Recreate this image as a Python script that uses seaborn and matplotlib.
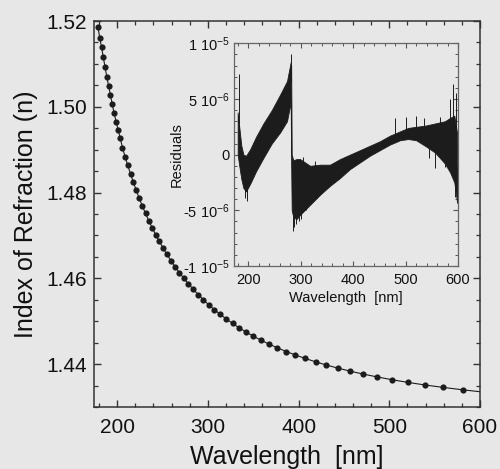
import numpy as np
import pandas as pd
import matplotlib
matplotlib.use("Agg")
import matplotlib.pyplot as plt
from matplotlib.ticker import MultipleLocator, FixedLocator
import seaborn as sns

# Refractive index measurements (wavelength in nm)
wavelength_nm = [581.0, 559.3, 539.2, 520.5, 503.0, 486.7, 471.4, 457.0, 443.5, 430.7,
                 418.7, 407.3, 396.6, 386.3, 376.6, 367.4, 358.6, 350.2, 342.2, 334.6,
                 327.3, 320.3, 313.6, 307.2, 301.0, 295.1, 289.4, 283.9, 278.6, 273.5,
                 268.6, 263.9, 259.3, 254.9, 250.7, 246.5, 242.6, 238.7, 234.9, 231.3,
                 227.8, 224.4, 221.1, 217.9, 214.8, 211.7, 208.8, 205.9,
                 203.3, 201.1, 198.9, 196.7, 194.6, 192.6, 190.6, 188.6, 186.7, 184.8,
                 182.8, 180.8, 178.8]
index_n = [1.43401, 1.43457, 1.43514, 1.43574, 1.43636, 1.43701, 1.43767, 1.43835, 1.43906, 1.43978,
           1.44054, 1.44132, 1.44212, 1.44294, 1.44380, 1.44467, 1.44558, 1.44651, 1.44747, 1.44846,
           1.44948, 1.45053, 1.45160, 1.45271, 1.45383, 1.45500, 1.45620, 1.45744, 1.45871, 1.46002,
           1.46134, 1.46270, 1.46413, 1.46556, 1.46707, 1.46860, 1.47015, 1.47177, 1.47343, 1.47512,
           1.47687, 1.47866, 1.48051, 1.48240, 1.48433, 1.48632, 1.48834, 1.49047,
           1.49280, 1.49459, 1.49653, 1.49848, 1.50065, 1.50275, 1.50485, 1.50702, 1.50921, 1.51154,
           1.51387, 1.51611, 1.51867]

# Dispersion fit curve (extends to the red end of the range)
fit_wavelength_nm = [600.0] + wavelength_nm
fit_index_n = [1.43356] + index_n

# Fit residuals: envelope of the scatter band (units of 1e-6)
res_wl = [180, 183, 187, 191, 196, 204, 215, 229, 245, 261, 274, 279, 281, 282, 283,
          286, 292, 299, 318, 337, 356, 375, 394, 413, 432, 451, 470, 490, 505, 520,
          537, 556, 575, 585, 593, 598]
res_upper = [3.8, 2.5, 0.8, 0.0, -0.1, 0.5, 1.6, 2.8, 4.0, 5.4, 6.6, 7.8, 8.3, 8.0, 0.0,
             -0.5, -0.4, -0.4, -1.0, -0.9, -0.9, -0.4, 0.0, 0.4, 0.8, 1.2, 1.7, 2.1, 2.4, 2.5,
             2.6, 2.8, 3.0, 3.3, 3.5, 2.0]
res_lower = [0.0, -1.0, -2.2, -3.0, -3.3, -2.6, -1.5, -0.3, 1.0, 2.0, 3.0, 4.2, 4.8, -1.0, -5.0,
             -5.6, -5.8, -5.4, -4.5, -3.6, -2.8, -2.1, -1.3, -0.7, -0.1, 0.4, 0.9, 1.3, 1.4, 1.3,
             0.8, 0.2, -0.8, -1.6, -2.5, -4.2]
# Isolated outliers beyond the band (units of 1e-6)
spike_wl = [182, 194, 197, 281, 285, 288, 292, 296, 300, 305, 310, 327, 332,
            480, 500, 520, 535, 545, 556, 565, 575, 585, 590, 594, 597, 599]
spike_val = [7.2, -3.9, -4.2, 9.0, -6.9, -6.5, -6.2, -6.0, -5.8, -0.2, -5.0, -0.6, -3.9,
             3.3, 3.4, 3.5, 3.3, -0.3, -1.2, 3.4, -1.1, 5.0, 6.3, -3.8, 5.5, -4.3]

main_yticks = [1.44, 1.46, 1.48, 1.50, 1.52]
xticks = [200, 300, 400, 500, 600]
inset_yticks = [-1e-5, -5e-6, 0, 5e-6, 1e-5]
inset_yticklabels = [r"-1 10$^{-5}$", r"-5 10$^{-6}$", "0", r"5 10$^{-6}$", r"1 10$^{-5}$"]

sns.set_theme(style="ticks")
bg = "#e7e7e7"
ink = "#1c1c1c"
plt.rcParams["font.family"] = ["Liberation Sans", "DejaVu Sans"]
plt.rcParams["mathtext.fontset"] = "custom"
plt.rcParams["mathtext.rm"] = "Liberation Sans"
plt.rcParams["mathtext.it"] = "Liberation Sans"

fig = plt.figure(figsize=(5.0, 4.69), dpi=100, facecolor=bg)
ax = fig.add_axes([0.188, 0.1322, 0.772, 0.8230])
ax.set_facecolor(bg)

df = pd.DataFrame({"wl": wavelength_nm, "n": index_n})
fit_df = pd.DataFrame({"wl": fit_wavelength_nm, "n": fit_index_n})
sns.lineplot(data=fit_df, x="wl", y="n", ax=ax, color=ink, linewidth=0.8, sort=True)
sns.scatterplot(data=df, x="wl", y="n", ax=ax, color=ink, s=20, linewidth=0, zorder=3)

ax.set_xlim(174.5, 600)
ax.set_ylim(1.43, 1.52)
ax.xaxis.set_major_locator(FixedLocator(xticks))
ax.xaxis.set_minor_locator(MultipleLocator(20))
ax.yaxis.set_major_locator(FixedLocator(main_yticks))
ax.yaxis.set_minor_locator(MultipleLocator(0.005))
ax.set_yticklabels([f"{v:.2f}" for v in main_yticks])
ax.tick_params(which="both", direction="in", top=True, right=True, colors="#333333",
               labelcolor="#111111", labelsize=15)
ax.tick_params(which="major", length=5, width=1.0)
ax.tick_params(axis="x", which="major", pad=8)
ax.tick_params(axis="y", which="major", pad=5)
ax.tick_params(which="minor", length=2.8, width=0.9)
for s in ax.spines.values():
    s.set_color("#333333")
    s.set_linewidth(1.1)
    s.set_visible(True)
ax.set_xlabel("Wavelength  [nm]", fontsize=18, color="#111111", labelpad=6)
ax.set_ylabel("Index of Refraction (n)", fontsize=18, color="#111111", labelpad=6)

# Residuals inset
ins = fig.add_axes([0.468, 0.4328, 0.448, 0.4749])
ins.set_facecolor(bg)
scale = 1e-6
ins.fill_between(res_wl, np.array(res_lower) * scale, np.array(res_upper) * scale,
                 color=ink, linewidth=0.6, edgecolor=ink)
mid = (np.array(res_upper) + np.array(res_lower)) / 2
base = np.interp(spike_wl, res_wl, mid) * scale
ins.vlines(spike_wl, base, np.array(spike_val) * scale, color=ink, linewidth=0.7)
ins.set_xlim(173, 600)
ins.set_ylim(-1e-5, 1e-5)
ins.xaxis.set_major_locator(FixedLocator(xticks))
ins.xaxis.set_minor_locator(MultipleLocator(20))
ins.yaxis.set_major_locator(FixedLocator(inset_yticks))
ins.yaxis.set_minor_locator(MultipleLocator(1e-6))
ins.set_yticklabels(inset_yticklabels)
ins.tick_params(which="both", direction="in", top=True, right=True, colors="#555555",
                labelcolor="#111111", labelsize=10.5)
ins.tick_params(which="major", length=3.5, width=0.8)
ins.tick_params(axis="x", which="major", pad=5)
ins.tick_params(axis="y", which="major", pad=3)
ins.tick_params(which="minor", length=2, width=0.7)
for s in ins.spines.values():
    s.set_color("#666666")
    s.set_linewidth(0.9)
ins.set_xlabel("Wavelength  [nm]", fontsize=10.5, color="#111111", labelpad=3)
ins.set_ylabel("Residuals", fontsize=10.5, color="#111111")
ins.yaxis.set_label_coords(-0.225, 0.5)

fig.savefig("out.png", dpi=100, facecolor=bg)
